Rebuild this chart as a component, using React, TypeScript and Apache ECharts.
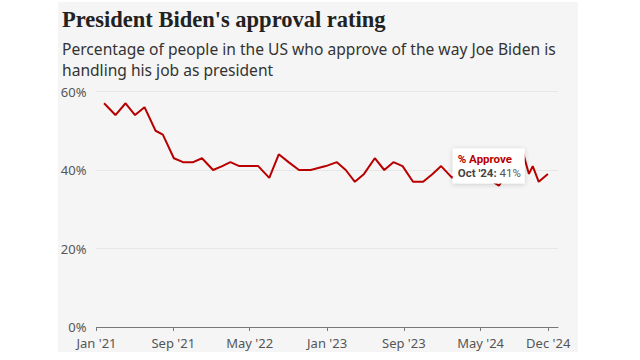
import React, { useEffect, useRef } from 'react';
import * as echarts from 'echarts';

// Poll dates and approval percentages (Gallup-style monthly polls)
const pollDates = [
  '2021-01-25', '2021-03-02', '2021-04-03', '2021-05-03', '2021-06-02', '2021-07-07', '2021-07-30',
  '2021-09-03', '2021-10-02', '2021-11-03', '2021-12-01', '2022-01-05', '2022-02-03', '2022-03-01',
  '2022-03-29', '2022-04-28', '2022-05-28', '2022-07-02', '2022-08-01', '2022-09-01', '2022-10-04',
  '2022-11-10', '2022-12-28', '2023-02-01', '2023-03-01', '2023-03-30', '2023-04-28', '2023-06-01',
  '2023-07-01', '2023-07-30', '2023-08-28', '2023-09-30', '2023-11-01', '2023-12-01', '2023-12-28',
  '2024-02-01', '2024-03-01', '2024-04-01', '2024-05-01', '2024-06-28', '2024-08-01', '2024-09-10',
  '2024-10-01', '2024-10-13', '2024-11-01', '2024-11-30'
];
const approve = [
  57, 54, 57, 54, 56, 50, 49,
  43, 42, 42, 43, 40, 41, 42,
  41, 41, 41, 38, 44, 42, 40,
  40, 41, 42, 40, 37, 39, 43,
  40, 42, 41, 37, 37, 39, 41,
  38, 40, 38, 39, 36, 40, 45,
  39, 41, 37, 39
];

const tickDates = ['2021-01-01', '2021-09-01', '2022-05-01', '2023-01-01', '2023-09-01', '2024-05-01', '2024-12-01'];
const tickLabels = ["Jan '21", "Sep '21", "May '22", "Jan '23", "Sep '23", "May '24", "Dec '24"];

const highlightIndex = 43;
const highlightLabel = "Oct '24:";
const seriesName = '% Approve';

const title = "President Biden's approval rating";
const subtitleLines = [
  'Percentage of people in the US who approve of the way Joe Biden is',
  'handling his job as president'
];

const toTime = (s: string) => {
  const [y, m, d] = s.split('-').map(Number);
  return new Date(y, m - 1, d).getTime();
};

const SANS = '"Noto Sans", "Open Sans", sans-serif';
const TIP = 'Roboto, "Noto Sans", sans-serif';
const SERIF = '"Liberation Serif", "DejaVu Serif", serif';
const RED = '#b80000';

export default function App() {
  const ref = useRef<HTMLDivElement>(null);
  useEffect(() => {
    if (!ref.current) return;
    const chart = echarts.init(ref.current, null, { renderer: 'svg' });
    const tickTimes = tickDates.map(toTime);
    const data = pollDates.map((d, i) => [toTime(d), approve[i]]);
    const labelFor = (v: number) => {
      for (let i = 0; i < tickTimes.length; i++) {
        if (Math.abs(tickTimes[i] - v) < 86400000) return tickLabels[i];
      }
      return '';
    };
    const headerGraphics = [
      {
        id: 'title',
        type: 'text',
        x: 62,
        y: 19,
        style: {
          text: title,
          fontSize: 22.5,
          fontWeight: 'bold',
          fontFamily: SERIF,
          fill: '#222',
          verticalAlign: 'middle'
        }
      },
      {
        id: 'subtitle',
        type: 'text',
        x: 62,
        y: 38,
        style: {
          text: subtitleLines.join('\n'),
          fontSize: 15.6,
          fontFamily: SANS,
          fill: '#333',
          lineHeight: 21,
          verticalAlign: 'top'
        }
      }
    ];
    chart.setOption({
      animation: false,
      grid: { left: 96.5, right: 82, top: 91.5, bottom: 33, outerBoundsMode: 'none' },
      xAxis: {
        type: 'value',
        min: toTime('2021-01-01'),
        max: toTime('2025-01-01'),
        axisLine: { show: true, lineStyle: { color: '#777', width: 1 } },
        axisTick: { show: true, customValues: tickTimes, length: 4, lineStyle: { color: '#777' } },
        axisLabel: {
          customValues: tickTimes,
          formatter: (v: number) => labelFor(v),
          color: '#555',
          fontSize: 13,
          lineHeight: 14,
          fontFamily: SANS,
          margin: 9
        },
        splitLine: { show: false }
      },
      yAxis: {
        type: 'value',
        min: 0,
        max: 60,
        interval: 20,
        axisLine: { show: false },
        axisTick: { show: false },
        axisLabel: { formatter: '{value}%', color: '#555', fontSize: 13, lineHeight: 14, fontFamily: SANS, margin: 10 },
        splitLine: { lineStyle: { color: '#e6e6e6', width: 1 } }
      },
      series: [
        {
          type: 'line',
          name: seriesName,
          data,
          symbol: 'none',
          lineStyle: { color: RED, width: 2 },
          z: 3
        }
      ],
      graphic: headerGraphics
    });
    const pt = chart.convertToPixel({ xAxisIndex: 0, yAxisIndex: 0 }, data[highlightIndex]) as number[];
    const boxW = 72;
    const boxH = 35;
    const bx = pt[0] - 8 - boxW;
    const by = pt[1] - boxH / 2;
    chart.setOption({
      graphic: [
        ...headerGraphics,
        {
          id: 'tipBox',
          type: 'rect',
          z: 100,
          shape: { x: bx, y: by, width: boxW, height: boxH },
          style: { fill: '#ffffff', shadowBlur: 5, shadowColor: 'rgba(0,0,0,0.18)', shadowOffsetY: 1 }
        },
        {
          id: 'tipTitle',
          type: 'text',
          z: 101,
          x: bx + 5,
          y: by + 10.5,
          style: {
            text: seriesName,
            fontSize: 11.5,
            lineHeight: 12,
            fontWeight: 'bold',
            fontFamily: TIP,
            fill: RED,
            verticalAlign: 'middle'
          }
        },
        {
          id: 'tipValue',
          type: 'text',
          z: 101,
          x: bx + 5,
          y: by + 24,
          style: {
            text: '{a|' + highlightLabel + '} {b|' + approve[highlightIndex] + '%}',
            verticalAlign: 'middle',
            fontSize: 11.5,
            lineHeight: 12,
            fontFamily: TIP,
            rich: {
              a: { fontSize: 11.5, lineHeight: 12, fontWeight: 'bold', fontFamily: TIP, fill: '#444' },
              b: { fontSize: 11.5, lineHeight: 12, fontFamily: TIP, fill: '#555' }
            }
          }
        }
      ]
    });
    return () => chart.dispose();
  }, []);
  return (
    <div style={{ position: 'fixed', left: 0, top: 0, width: 640, height: 360, background: '#fff' }}>
      <div style={{ position: 'absolute', left: 58, top: 2, width: 520, height: 350, background: '#f5f5f5' }} />
      <div ref={ref} style={{ position: 'absolute', left: 0, top: 0, width: 640, height: 360 }} />
    </div>
  );
}
